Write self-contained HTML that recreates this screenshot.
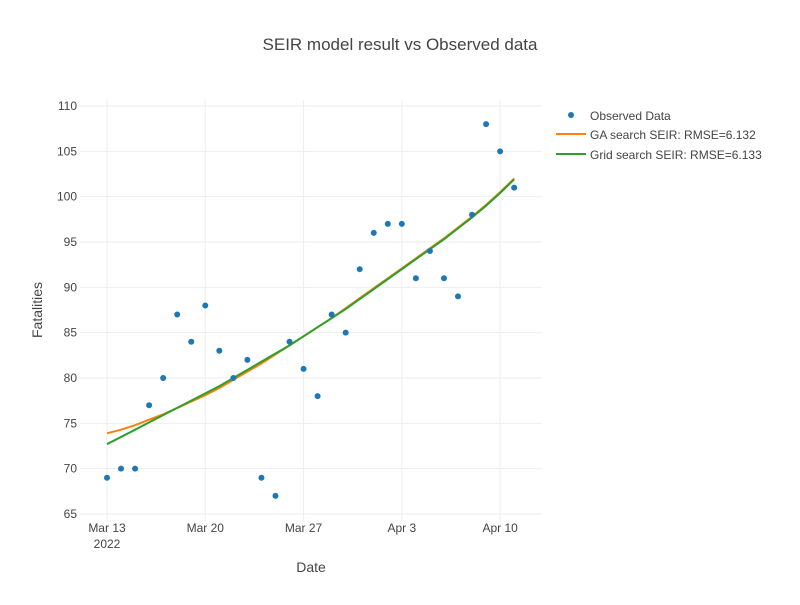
<!DOCTYPE html>
<html><head><meta charset="utf-8"><style>
body{margin:0;background:#fff;font-family:"Liberation Sans",Arial,sans-serif}
svg text{font-family:"Liberation Sans",Arial,sans-serif;fill:#444}
</style></head><body>
<svg id="c" width="800" height="600" xmlns="http://www.w3.org/2000/svg">
<text x="400" y="50" text-anchor="middle" font-size="17">SEIR model result vs Observed data</text>
<g id="grid"></g><g id="axes"></g><g id="plot"></g>
<text x="311" y="572" text-anchor="middle" font-size="14">Date</text>
<text transform="translate(42,310) rotate(-90)" text-anchor="middle" font-size="14">Fatalities</text>
<g>
<g><circle cx="571" cy="115" r="3" fill="#1f77b4"/><text x="590" y="120" font-size="12">Observed Data</text></g>
<g><line x1="556" x2="586" y1="134" y2="134" stroke="#ff7f0e" stroke-width="2"/><text x="590" y="139" font-size="12">GA search SEIR: RMSE=6.132</text></g>
<g><line x1="556" x2="586" y1="154" y2="154" stroke="#2ca02c" stroke-width="2"/><text x="590" y="159" font-size="12">Grid search SEIR: RMSE=6.133</text></g>
</g>
</svg>
<script>
const observed=[69,70,70,77,80,87,84,88,83,80,82,69,67,84,81,78,87,85,92,96,97,97,91,94,91,89,98,108,105,101];
const gaFit=[73.9,74.3,74.8,75.4,76.0,76.7,77.4,78.1,78.9,79.8,80.7,81.6,82.6,83.6,84.6,85.6,86.6,87.7,88.8,89.9,91.0,92.1,93.2,94.3,95.4,96.6,97.8,99.1,100.5,102.0];
const gridFit=[72.7,73.5,74.3,75.1,75.9,76.7,77.5,78.3,79.1,80.0,80.9,81.8,82.7,83.6,84.6,85.6,86.6,87.6,88.7,89.8,90.9,92.0,93.1,94.2,95.3,96.5,97.7,99.0,100.4,101.9];
const yTicks=[65,70,75,80,85,90,95,100,105,110];
const xTickDays=[0,7,14,21,28];
const xTickLabels=["Mar 13","Mar 20","Mar 27","Apr 3","Apr 10"];
const NS="http://www.w3.org/2000/svg";
const L=80,R=542,T=100,B=522;
const x=d=>107+d*14.04;
const y=v=>514-(v-65)*9.067;
function mk(tag,attrs,parent){const e=document.createElementNS(NS,tag);for(const k in attrs)e.setAttribute(k,attrs[k]);document.getElementById(parent).appendChild(e);return e;}
yTicks.forEach(v=>{
 const g=mk('line',{x1:L,x2:R,y1:y(v),y2:y(v),stroke:'#eee','stroke-width':1},'grid');
 
 
 const t=mk('text',{x:L-3,y:y(v)+4,'text-anchor':'end','font-size':12},'axes');t.textContent=v;
 
 
});
xTickDays.forEach((d,i)=>{
 const g=mk('line',{x1:x(d),x2:x(d),y1:T,y2:B,stroke:'#eee','stroke-width':1},'grid');
 
 
 const t=mk('text',{x:x(d),y:532,'text-anchor':'middle','font-size':12},'axes');t.textContent=xTickLabels[i];
 
 
});
const yr=mk('text',{x:x(0),y:548,'text-anchor':'middle','font-size':12},'axes');yr.textContent="2022";


function line(arr,color,name){
 const p=mk('path',{d:arr.map((v,i)=>(i?'L':'M')+x(i)+','+y(v)).join(''),fill:'none',stroke:color,'stroke-width':2},'plot');
 
 
}
line(gaFit,'#ff7f0e','ga-search-line');
line(gridFit,'#2ca02c','grid-search-line');
observed.forEach((v,i)=>{
 const c=mk('circle',{cx:x(i),cy:y(v),r:3,fill:'#1f77b4'},'plot');
 
 
});
</script>
</body></html>
